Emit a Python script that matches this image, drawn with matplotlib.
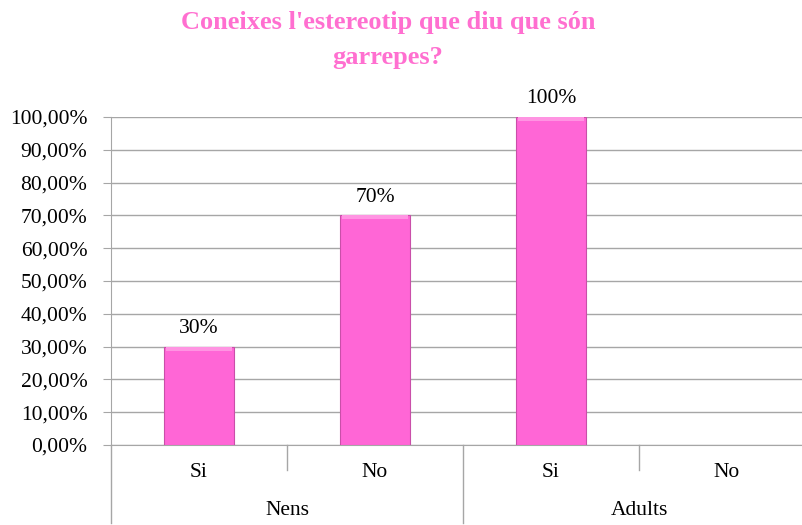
import matplotlib
matplotlib.use('Agg')
import matplotlib.pyplot as plt
import numpy as np

# Data
groups = ['Nens', 'Adults']
answers = ['Si', 'No', 'Si', 'No']
values = [30, 70, 100, None]
value_labels = ['30%', '70%', '100%', '']
yticks = [0, 10, 20, 30, 40, 50, 60, 70, 80, 90, 100]
ytick_labels = ['%d,00%%' % t for t in yticks]

pink = '#ff66d6'
title_pink = '#ff6fd0'
grid_gray = '#a6a6a6'

plt.rcParams['font.family'] = ['Liberation Serif', 'DejaVu Serif']

fig = plt.figure(figsize=(8.02, 5.25), dpi=100)
ax = fig.add_axes([111/802, 80/525, 704/802, 328/525])

x = np.arange(len(answers))
for i, v in enumerate(values):
    if v is None:
        continue
    ax.bar(x[i], v, width=0.4, color=pink, edgecolor='#c94fa9', linewidth=0.8, zorder=3)
    # light bevel along the top
    ax.bar(x[i], 1.2, bottom=v - 1.2, width=0.38, color='#ff94e2', linewidth=0, zorder=4)
    ax.text(x[i], v + 2.7, value_labels[i], ha='center', va='bottom', fontsize=15.5)

ax.set_xlim(-0.5, len(answers) - 0.5)
ax.set_ylim(0, 100)
ax.set_yticks(yticks)
ax.set_yticklabels(ytick_labels, fontsize=15.5)
ax.yaxis.grid(True, color=grid_gray, linewidth=1, zorder=0)
ax.tick_params(axis='y', direction='out', length=6, color=grid_gray, pad=11)
ax.set_xticks([])
for s in ['top', 'right']:
    ax.spines[s].set_visible(False)
for s in ['left', 'bottom']:
    ax.spines[s].set_color(grid_gray)

# two-level category axis
trans = ax.get_xaxis_transform()
for i, a in enumerate(answers):
    ax.text(x[i], -0.085, a, transform=trans, ha='center', va='center', fontsize=15.5)
for j, g in enumerate(groups):
    ax.text(2 * j + 0.5, -0.2, g, transform=trans, ha='center', va='center', fontsize=15.5)
for b in [-0.5, 0.5, 1.5, 2.5, 3.5]:
    depth = -0.238 if b in (-0.5, 1.5, 3.5) else -0.076
    ax.plot([b, b], [0, depth], transform=trans, color=grid_gray, lw=1, clip_on=False)

fig.text(388/802, 1 - 40/525, "Coneixes l'estereotip que diu que són\ngarrepes?",
         ha='center', va='center', fontsize=19, fontweight='bold', color=title_pink,
         linespacing=1.65)

fig.savefig('out.png', dpi=100)
